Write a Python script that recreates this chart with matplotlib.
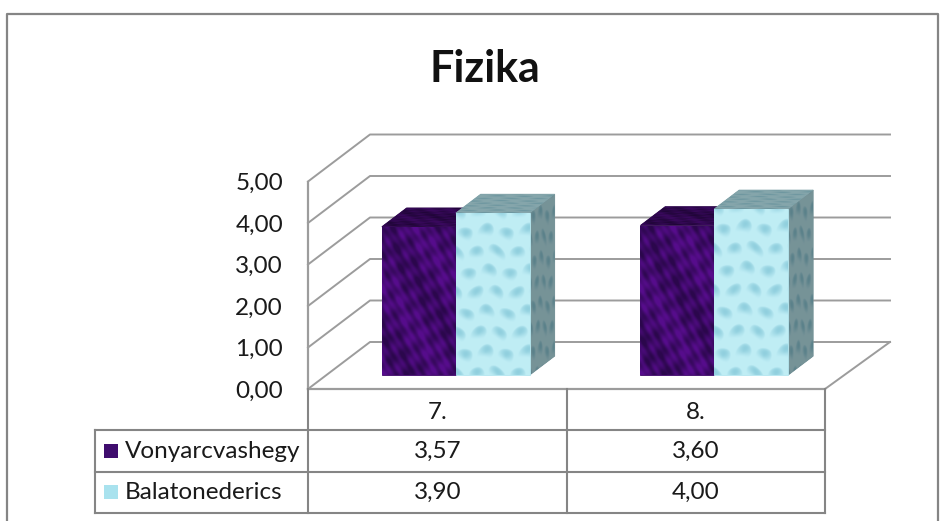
import numpy as np
import matplotlib
matplotlib.use("Agg")
import matplotlib.pyplot as plt
from matplotlib.patches import Polygon, Rectangle

# Data
categories = ["7.", "8."]
series_names = ["Vonyarcvashegy", "Balatonederics"]
vonyarc = [3.57, 3.60]
balaton = [3.90, 4.00]
y_ticks = [0, 1, 2, 3, 4, 5]

plt.rcParams["font.family"] = ["Lato", "DejaVu Sans"]
GRID = "#9c9c9c"
FRAME = "#858585"
TXT = "#1a1a1a"

W, H = 947, 521
fig = plt.figure(figsize=(W / 100, H / 100), dpi=100)
ax = fig.add_axes([308 / W, 1 - 389 / H, 517 / W, 207.5 / H])
ax.set_xlim(-0.5, 1.5)
ax.set_ylim(0, 5)

# one unit of depth in data units (3D look of the Excel chart)
PX = 2 / 517
PY = 1 / 41.5
DX = 62 * PX
DY = 47 * PY


def depth(x, y, d):
    return x + d * DX, y + d * DY


# outer frame
fig.add_artist(plt.Line2D([7 / W, 7 / W, 938 / W, 938 / W], [0, 1 - 14 / H, 1 - 14 / H, 0],
                          color=FRAME, lw=1.6))

# walls and floor
right_end = 1.5 + 65 * PX
for v in y_ticks:
    xb, yb = depth(-0.5, v, 1)
    ax.plot([-0.5, xb, right_end], [v, yb, yb], color=GRID, lw=1.4, clip_on=False, zorder=1)
ax.plot([-0.5, -0.5], [0, 5], color=GRID, lw=1.6, clip_on=False, zorder=1)
ax.plot([1.5, right_end], [0, DY], color=GRID, lw=1.4, clip_on=False, zorder=1)
ax.plot([-0.5, 1.5], [0, 0], color=GRID, lw=1.6, clip_on=False, zorder=2)


def purple_tex(n=120):
    # mottled purple, a few crossing waves
    yy, xx = np.mgrid[0:n, 0:n] / n
    m = (np.sin(xx * 31 + yy * 13) + np.sin(xx * 11 - yy * 43 + 1.3)
         + np.sin(xx * 53 + yy * 67 + 0.7) + np.sin(xx * 7 + yy * 9 + 2.1))
    m = np.clip(0.5 + m / 5, 0, 1)
    c0 = np.array([0.17, 0.03, 0.30])
    c1 = np.array([0.34, 0.05, 0.55])
    return c0 + (c1 - c0) * m[..., None]


def water_tex(n=240):
    # light blue with offset rows of round droplets
    yy, xx = np.mgrid[0:n, 0:n] / n
    v = yy * 8 + 0.12 * np.sin(xx * 11)
    u = xx * 3.6 + 0.5 * (np.floor(v + 0.5) % 2) + 0.1 * np.sin(yy * 17)
    du = u - np.round(u)
    dv = v - np.round(v)
    r = np.hypot(du, dv)
    shade = np.clip(1 - r / 0.4, 0, 1) ** 0.6 * np.clip(0.45 + dv * 1.8 + du * 0.6, 0, 1)
    c0 = np.array([0.75, 0.93, 0.96])
    c1 = np.array([0.42, 0.72, 0.80])
    return c0 + (c1 - c0) * shade[..., None]


def textured(tex, pts, mult=1.0, z=3):
    pts = np.array(pts)
    img = np.clip(tex * mult, 0, 1)
    avg = img.reshape(-1, 3).mean(axis=0)
    poly = Polygon(pts, closed=True, facecolor=avg, edgecolor=avg, lw=0.6, zorder=z)
    ax.add_patch(poly)
    im = ax.imshow(img, extent=(pts[:, 0].min(), pts[:, 0].max(), pts[:, 1].min(), pts[:, 1].max()),
                   aspect="auto", origin="lower", zorder=z + 0.1, interpolation="bilinear")
    im.set_clip_path(poly)


def bar3d(x0, x1, val, tex, z):
    # bar sits 0.3 into the floor, 0.4 deep
    d0, d1 = 0.3, 0.7
    fx0, fy0 = depth(x0, 0, d0)
    fx1, _ = depth(x1, 0, d0)
    top = fy0 + val
    ox, oy = (d1 - d0) * DX, (d1 - d0) * DY
    textured(tex, [(fx1, fy0), (fx1 + ox, fy0 + oy), (fx1 + ox, top + oy), (fx1, top)], 0.62, z)
    textured(tex, [(fx0, top), (fx1, top), (fx1 + ox, top + oy), (fx0 + ox, top + oy)], 0.7, z)
    textured(tex, [(fx0, fy0), (fx1, fy0), (fx1, top), (fx0, top)], 1.0, z + 0.5)


BW = 74 * PX
ptex = purple_tex()
wtex = water_tex()
for i in range(len(categories)):
    bar3d(i - BW, i, vonyarc[i], ptex, 3)
    bar3d(i, i + BW, balaton[i], wtex, 4)

ax.set_xlim(-0.5, 1.5)
ax.set_ylim(0, 5)
ax.patch.set_visible(False)
for s in ax.spines.values():
    s.set_visible(False)
ax.set_xticks([])
ax.set_yticks(y_ticks)
ax.set_yticklabels([f"{v:.2f}".replace(".", ",") for v in y_ticks], fontsize=17.5, color=TXT)
ax.tick_params(axis="y", length=0, pad=18)

# data table under the chart
row_y = [0, -41 * PY, -83 * PY, -124 * PY]
left = -0.5 - 213 * PX
kw = dict(color=FRAME, lw=1.5, clip_on=False, zorder=5)
ax.plot([left, 1.5], [row_y[1], row_y[1]], **kw)
ax.plot([left, 1.5], [row_y[2], row_y[2]], **kw)
ax.plot([left, 1.5], [row_y[3], row_y[3]], **kw)
ax.plot([left, left], [row_y[1], row_y[3]], **kw)
for x in [-0.5, 0.5, 1.5]:
    ax.plot([x, x], [0, row_y[3]], **kw)

cell = dict(ha="center", va="center", fontsize=17.5, color=TXT, clip_on=False)
for i, c in enumerate(categories):
    ax.text(i, (row_y[0] + row_y[1]) / 2 - 3 * PY, c, **cell)
    ax.text(i, (row_y[1] + row_y[2]) / 2, f"{vonyarc[i]:.2f}".replace(".", ","), **cell)
    ax.text(i, (row_y[2] + row_y[3]) / 2, f"{balaton[i]:.2f}".replace(".", ","), **cell)

swatches = ["#3f0d6e", "#a9e2ee"]
for j, name in enumerate(series_names):
    yc = (row_y[j + 1] + row_y[j + 2]) / 2
    ax.add_patch(Rectangle((left + 9 * PX, yc - 7 * PY), 14 * PX, 14 * PY, facecolor=swatches[j],
                           edgecolor="none", clip_on=False, zorder=5))
    ax.text(left + 30 * PX, yc, name, ha="left", va="center", fontsize=17.5, color=TXT, clip_on=False)

fig.text(485 / W, 1 - 69 / H, "Fizika", ha="center", va="center", fontsize=31, fontweight="bold", color="#111111")

fig.savefig("out.png", dpi=100, facecolor="white")
